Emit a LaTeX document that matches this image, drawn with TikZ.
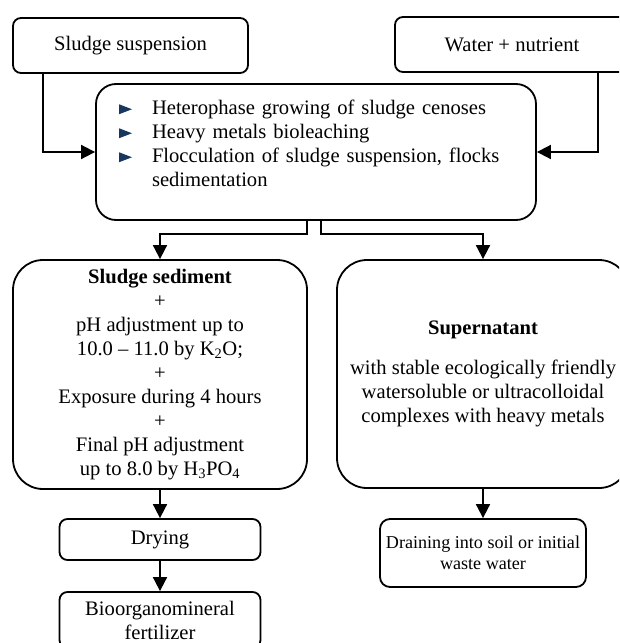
\documentclass[tikz,border=0pt]{standalone}
\usepackage{fontspec}
\setmainfont{Liberation Serif}
\usetikzlibrary{arrows.meta}
\definecolor{pointblue}{RGB}{23,55,94}
\newcommand{\pointer}{\tikz[baseline=0pt]\fill[pointblue,sharp corners] (0pt,0pt) -- (0pt,10pt) -- (13pt,5pt) -- cycle;}

\begin{document}
\begin{tikzpicture}[x=1pt,y=-1pt,
	box/.style={draw,line width=1.8pt,inner sep=0pt,align=center,font=\fontsize{20.6}{24}\selectfont},
	arr/.style={line width=1.8pt,-{Triangle[length=14pt,width=14pt]}}]
		\clip (0,0) rectangle (619,643);
		% top row
		\node[box,rounded corners=8pt,minimum width=235pt,minimum height=55pt] (susp) at (130.5,45.5) {Sludge suspension};
		\node[box,rounded corners=8pt,minimum width=234pt,minimum height=55pt] (water) at (512,44.5) {Water + nutrient};
		\node[box,rounded corners=20pt,minimum width=440pt,minimum height=136pt,text width=394pt,inner xsep=23pt,align=left] (proc) at (316,152) {\makebox[33pt][l]{\pointer}Heterophase growing of sludge cenoses\\
			\makebox[33pt][l]{\pointer}Heavy metals bioleaching\\
			\makebox[33pt][l]{\pointer}Flocculation of sludge suspension, flocks\\
			\hspace*{33pt}sedimentation\\[-6pt]
			\mbox{}};
		% two branches
		\node[box,rounded corners=30pt,minimum width=294pt,minimum height=229pt] (sed) at (160,374.5) {\textbf{Sludge sediment}\\ +\\ pH adjustment up to\\ 10.0 – 11.0 by K\textsubscript{2}O;\\ +\\ Exposure during 4 hours\\ +\\ Final pH adjustment\\ up to 8.0 by H\textsubscript{3}PO\textsubscript{4}};
		\node[box,rounded corners=30pt,minimum width=292pt,minimum height=228pt] (sup) at (483,374) {\mbox{}\\[-11pt] \textbf{Supernatant}\\[16pt] with stable ecologically friendly\\ watersoluble or ultracolloidal\\ complexes with heavy metals};
		% bottom
		\node[box,rounded corners=8pt,minimum width=201pt,minimum height=41pt] (dry) at (160,539.5) {Drying};
		\node[box,rounded corners=8pt,minimum width=201pt,minimum height=56pt] (fert) at (160,620) {Bioorganomineral\\ fertilizer};
		\node[box,rounded corners=10pt,minimum width=206pt,minimum height=68pt,font=\fontsize{18.1}{21}\selectfont] (drain) at (483,553) {Draining into soil or initial\\ waste water};
		\draw[arr] ([xshift=31pt]susp.south west) |- (proc.west);
		\draw[arr] ([xshift=-32pt]water.south east) |- (proc.east);
		\draw[arr] ([xshift=-9pt]proc.south) -- ++(0,13) -| (sed.north);
		\draw[arr] ([xshift=5pt]proc.south) -- ++(0,13) -| (sup.north);
		\draw[arr] (sed.south) -- (dry.north);
		\draw[arr] (dry.south) -- (fert.north);
		\draw[arr] (sup.south) -- (drain.north);
\end{tikzpicture}
\end{document}
